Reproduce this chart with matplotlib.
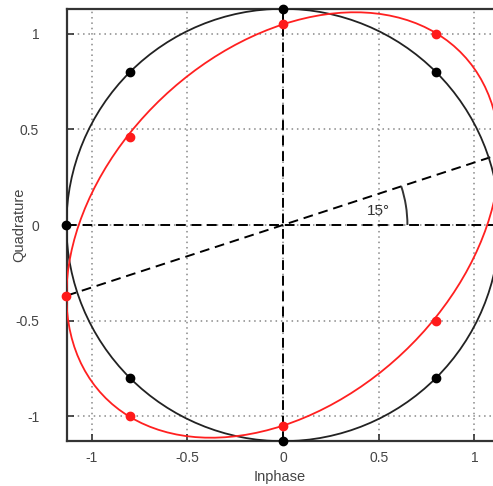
import matplotlib
matplotlib.use("Agg")
import matplotlib.pyplot as plt
from matplotlib.patches import Circle, Arc
from matplotlib.transforms import Affine2D

plt.rcParams.update({
    "font.family": ["Liberation Sans", "DejaVu Sans"],
    "font.size": 10,
})

# ideal 8-PSK constellation
ideal_i = [0, 0.8, 1.131, 0.8, 0, -0.8, -1.131, -0.8]
ideal_q = [1.131, 0.8, 0, -0.8, -1.131, -0.8, 0, 0.8]
radius = 1.131

# constellation with IQ imbalance
skew_i = [0, 0.8, 1.131, 0.8, 0, -0.8, -1.131, -0.8]
skew_q = [1.05, 1.0, 0.37, -0.5, -1.05, -1.0, -0.37, 0.46]
# Q' = a*I + b*Q  (read from the red points)
cross_gain = 0.327
quad_gain = 0.928

ticks = [-1, -0.5, 0, 0.5, 1]
tick_labels = ["-1", "-0.5", "0", "0.5", "1"]
angle_text = "15°"
angle_deg = 18.1

fig = plt.figure(figsize=(4.93, 4.86), dpi=100)
ax = fig.add_axes([67 / 493, 45 / 486, 426 / 493, 432 / 486])
ax.set_xlim(-1.128, 1.097)
ax.set_ylim(-1.13, 1.13)

ax.set_xticks(ticks)
ax.set_xticklabels(tick_labels)
ax.set_yticks(ticks)
ax.set_yticklabels(tick_labels)
ax.tick_params(direction="in", length=5, width=1.2, colors="#333333",
               labelcolor="#444444", labelsize=10)
ax.tick_params(axis="y", pad=20)
ax.tick_params(axis="x", pad=7)
ax.grid(True, linestyle=(0, (1, 2.5)), color="#888888", linewidth=1.1)
for s in ["left", "bottom", "top"]:
    ax.spines[s].set_color("#333333")
    ax.spines[s].set_linewidth(1.6)
ax.spines["right"].set_visible(False)

ax.set_xlabel("Inphase", color="#444444", fontsize=10.5)
ax.set_ylabel("Quadrature", color="#444444", fontsize=10.5)
ax.xaxis.set_label_coords(0.5, -0.068)
ax.yaxis.set_label_coords(-0.096, 0.5)

dash = (0, (5, 3))
ax.axhline(0, color="black", linestyle=dash, linewidth=1.4, zorder=2)
ax.axvline(0, color="black", linestyle=dash, linewidth=1.4, zorder=2)
ax.axline((0, 0), (skew_i[6], skew_q[6]), color="black", linestyle=dash,
          linewidth=1.4, zorder=2)

ax.add_patch(Arc((0, 0), 1.3, 1.3, theta1=0, theta2=angle_deg,
                 color="#333333", linewidth=1.4, zorder=2))
ax.text(0.5, 0.075, angle_text, ha="center", va="center", fontsize=11,
        color="#333333")

ax.add_patch(Circle((0, 0), radius, fill=False, edgecolor="#222222",
                    linewidth=1.3, zorder=3))
skew = Affine2D.from_values(1, cross_gain, 0, quad_gain, 0, 0)
ax.add_patch(Circle((0, 0), radius, fill=False, edgecolor="#ff2020",
                    linewidth=1.3, zorder=3, transform=skew + ax.transData))

ax.plot(ideal_i, ideal_q, "o", color="black", markersize=6, zorder=4,
        clip_on=False)
ax.plot(skew_i, skew_q, "o", color="#ff1a1a", markersize=6, zorder=5,
        clip_on=False)

fig.savefig("out.png", dpi=100)
